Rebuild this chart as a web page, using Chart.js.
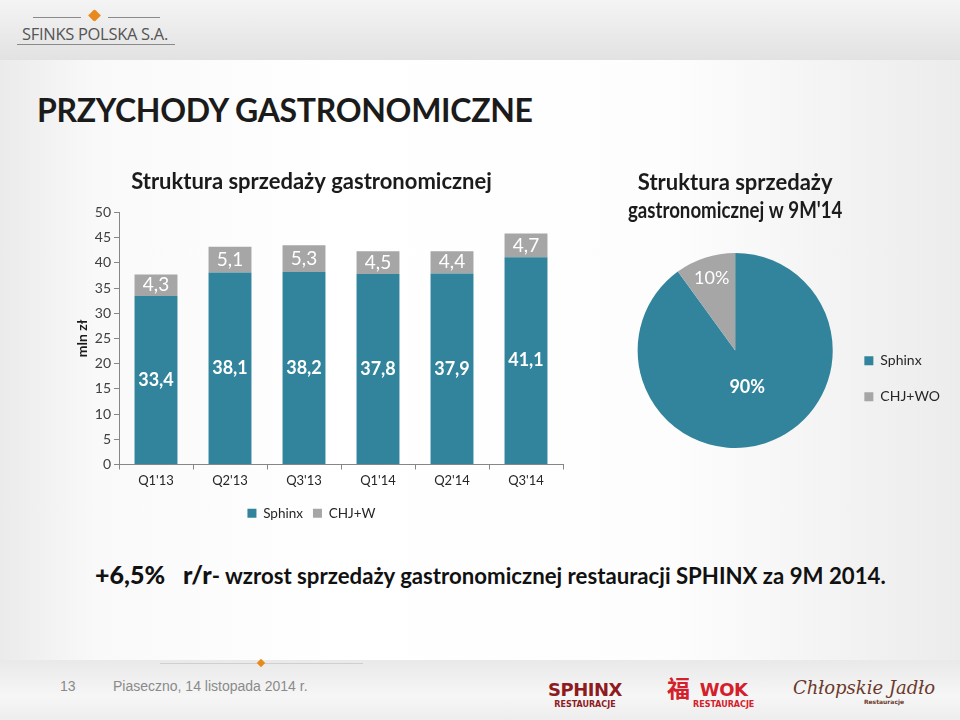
<!DOCTYPE html>
<html lang="pl">
<head>
<meta charset="utf-8">
<title>Przychody gastronomiczne</title>
<script src="https://cdn.jsdelivr.net/npm/chart.js@4.4.1/dist/chart.umd.min.js"></script>
<style>
  html, body { margin: 0; padding: 0; }
  body {
    width: 960px; height: 720px; position: relative; overflow: hidden;
    font-family: Lato, "Open Sans", sans-serif;
    background: linear-gradient(to right, #ebebeb 0%, #f9f9f9 10%, #ffffff 35%, #fdfdfd 70%, #ececec 100%);
  }
  .naglowek {
    position: absolute; left: 0; top: 0; width: 960px; height: 60px;
    background: linear-gradient(to bottom, #f4f4f4, #e2e2e2);
  }
  .logo { position: absolute; left: 17px; top: 14px; width: 158px; height: 34px; }
  .logo .linia { position: absolute; height: 1px; background: #8a8a8a; }
  .logo .ikona { position: absolute; left: 73px; top: -3px; width: 9px; height: 9px; background: #e8891e; transform: rotate(45deg); border-radius: 2px 0 2px 0; }
  .logo .napis { position: absolute; left: 5px; top: 8px; font-family: "Open Sans", sans-serif; font-size: 16.5px; color: #555; letter-spacing: -0.3px; }
  h1 {
    position: absolute; left: 37px; top: 90px; margin: 0;
    font-size: 32px; font-weight: bold; color: #1b1b1b; letter-spacing: -0.3px;
  }
  #wykresSlupki { position: absolute; left: 60px; top: 160px; width: 515px; height: 370px; }
  #wykresKolo { position: absolute; left: 600px; top: 160px; width: 350px; height: 310px; }
  .wniosek {
    position: absolute; left: 95px; top: 559px; margin: 0; white-space: pre;
    font-weight: bold; color: #111; font-size: 22.2px;
  }
  .wniosek b { font-size: 25px; }
  .stopka {
    position: absolute; left: 0; top: 660px; width: 960px; height: 60px;
    background: linear-gradient(to bottom, #e9e9e9, #f6f6f6 60%, #ededed);
  }
  .stopka .kreska { position: absolute; left: 160px; top: 3px; width: 203px; height: 1px; background: #cfcfcf; }
  .stopka .romb { position: absolute; left: 258px; top: 0; width: 6px; height: 6px; background: #e8891e; transform: rotate(45deg); }
  .stopka .nr { position: absolute; left: 60px; top: 18px; font-family: "Liberation Sans Narrow", sans-serif; font-size: 14px; color: #8a8a8a; }
  .stopka .miejsce { position: absolute; left: 113px; top: 18px; font-family: "Liberation Sans Narrow", sans-serif; font-size: 14px; color: #8a8a8a; }
  .marka { position: absolute; text-align: center; line-height: 1; }
  .marka .duzy { font-family: "DejaVu Sans", sans-serif; font-weight: bold; font-size: 18px; letter-spacing: -0.5px; }
  .marka .maly { font-family: "DejaVu Sans", sans-serif; font-weight: bold; font-size: 8px; margin-top: 2px; }
  .sphinx { left: 548px; top: 681px; color: #8e1b1e; }
  .wok { left: 667px; top: 680px; color: #d4202a; }
  .wok .znak { font-family: "Noto Sans CJK SC", sans-serif; font-size: 23px; font-weight: bold; position: absolute; left: 0; top: -4px; }
  .wok .tekst { position: absolute; left: 26px; top: 1px; }
  .chlopskie { left: 793px; top: 679px; color: #6b3a2c; font-family: "DejaVu Serif", serif; font-style: italic; font-size: 18px; }
  .chlopskie .maly { font-size: 6px; font-style: normal; margin-left: 40px; }
</style>
</head>
<body>
<div class="naglowek">
  <div class="logo">
    <div class="linia" style="left:16px; top:3px; width:48px;"></div>
    <div class="linia" style="left:91px; top:3px; width:52px;"></div>
    <div class="ikona"></div>
    <div class="napis">SFINKS POLSKA S.A.</div>
    <div class="linia" style="left:0; top:30px; width:158px;"></div>
  </div>
</div>

<h1>PRZYCHODY GASTRONOMICZNE</h1>

<div id="wykresSlupki"><canvas id="slupki"></canvas></div>
<div id="wykresKolo"><canvas id="kolo"></canvas></div>

<p class="wniosek"><b>+6,5%   r/r</b>- wzrost sprzedaży gastronomicznej restauracji SPHINX za 9M 2014.</p>

<div class="stopka">
  <div class="kreska"></div>
  <div class="romb"></div>
  <div class="nr">13</div>
  <div class="miejsce">Piaseczno, 14 listopada 2014 r.</div>
</div>
<div class="marka sphinx"><div class="duzy">SPHINX</div><div class="maly">RESTAURACJE</div></div>
<div class="marka wok" style="width:100px;height:30px;"><span class="znak">福</span><div class="tekst"><div class="duzy">WOK</div><div class="maly">RESTAURACJE</div></div></div>
<div class="marka chlopskie">Chłopskie Jadło<div class="maly">Restauracje</div></div>

<script>
// Dane - przychody kwartalne (mln zł)
const kwartaly = ["Q1'13", "Q2'13", "Q3'13", "Q1'14", "Q2'14", "Q3'14"];
const sprzedazSphinx = [33.4, 38.1, 38.2, 37.8, 37.9, 41.1];
const sprzedazChjWok = [4.3, 5.1, 5.3, 4.5, 4.4, 4.7];
const osYMax = 50;
const osYKrok = 5;

// Struktura sprzedaży 9M'14 (%)
const segmenty = ['Sphinx', 'CHJ+WO'];
const udzialy = [90, 10];

const NIEBIESKI = '#31849b';
const SZARY = '#a6a6a6';
const OS = '#868686';

Chart.defaults.font.family = 'Lato, "Open Sans", sans-serif';
Chart.defaults.color = '#404040';

// Etykiety z wartościami wewnątrz słupków i wycinków
const etykiety = {
    id: 'etykiety',
    afterDatasetsDraw(chart) {
        const ctx = chart.ctx;
        ctx.save();
        ctx.textAlign = 'center';
        ctx.textBaseline = 'middle';
        ctx.fillStyle = '#ffffff';
        chart.data.datasets.forEach((ds, i) => {
            const meta = chart.getDatasetMeta(i);
            if (meta.hidden) return;
            meta.data.forEach((el, j) => {
                const v = ds.data[j];
                let x, y, tekst;
                if (meta.type === 'pie') {
                    const p = el.getProps(['x', 'y', 'startAngle', 'endAngle', 'outerRadius']);
                    const kat = (p.startAngle + p.endAngle) / 2;
                    const r = p.outerRadius * (v > 50 ? 0.4 : 0.78);
                    x = p.x + Math.cos(kat) * r;
                    y = p.y + Math.sin(kat) * r;
                    tekst = v + '%';
                    ctx.font = (v > 50 ? 'bold ' : '') + '18px ' + Chart.defaults.font.family;
                } else {
                    const p = el.getProps(['x', 'y', 'base']);
                    x = p.x;
                    y = (p.y + p.base) / 2;
                    tekst = v.toFixed(1).replace('.', ',');
                    ctx.font = (i === 0 ? 'bold 18px ' : '19px ') + Chart.defaults.font.family;
                }
                ctx.fillText(tekst, x, y);
            });
        });
        ctx.restore();
    }
};

new Chart(document.getElementById('slupki'), {
    type: 'bar',
    data: {
        labels: kwartaly,
        datasets: [
            { label: 'Sphinx', data: sprzedazSphinx, backgroundColor: NIEBIESKI },
            { label: 'CHJ+W', data: sprzedazChjWok, backgroundColor: SZARY }
        ]
    },
    options: {
        responsive: true,
        maintainAspectRatio: false,
        animation: false,
        barPercentage: 0.58,
        categoryPercentage: 1,
        layout: { padding: { right: 12 } },
        scales: {
            x: {
                stacked: true,
                grid: { drawOnChartArea: false, color: OS, tickLength: 5 },
                border: { color: OS },
                ticks: { font: { size: 13 }, color: '#262626', padding: 4 },
                afterFit: (os) => { os.height = 32; }
            },
            y: {
                stacked: true,
                min: 0,
                max: osYMax,
                grid: { drawOnChartArea: false, color: OS, tickLength: 5 },
                border: { color: OS },
                ticks: { stepSize: osYKrok, font: { size: 14 }, color: '#404040', padding: 3 },
                title: { display: true, text: 'mln zł', font: { size: 14, weight: 'bold' }, color: '#1b1b1b', padding: { top: 14, bottom: 0 } },
                afterFit: (os) => { os.width = 59; }
            }
        },
        plugins: {
            title: {
                display: true,
                text: 'Struktura sprzedaży gastronomicznej',
                font: { size: 22, weight: 'bold' },
                color: '#1b1b1b',
                padding: { top: 9, bottom: 17 }
            },
            legend: {
                position: 'bottom',
                labels: { boxWidth: 9, boxHeight: 9, padding: 10, font: { size: 13.5 }, color: '#262626' }
            },
            tooltip: { enabled: false }
        }
    },
    plugins: [etykiety]
});

new Chart(document.getElementById('kolo'), {
    type: 'pie',
    data: {
        labels: segmenty,
        datasets: [{ data: udzialy, backgroundColor: [NIEBIESKI, SZARY], borderWidth: 0 }]
    },
    options: {
        responsive: true,
        maintainAspectRatio: false,
        animation: false,
        layout: { padding: { left: 28, bottom: 22 } },
        plugins: {
            title: {
                display: true,
                fullSize: false,
                text: ['Struktura sprzedaży', "gastronomicznej w 9M'14"],
                font: { size: 22, weight: 'bold', lineHeight: 1.27 },
                color: '#1b1b1b',
                padding: { top: 9, bottom: 28 }
            },
            legend: {
                position: 'right',
                fullSize: false,
                title: { display: true, text: '', font: { size: 12 }, padding: { top: 42, bottom: 0 } },
                labels: { boxWidth: 9, boxHeight: 9, padding: 22, font: { size: 14 }, color: '#262626' }
            },
            tooltip: { enabled: false }
        }
    },
    plugins: [etykiety]
});
</script>
</body>
</html>
